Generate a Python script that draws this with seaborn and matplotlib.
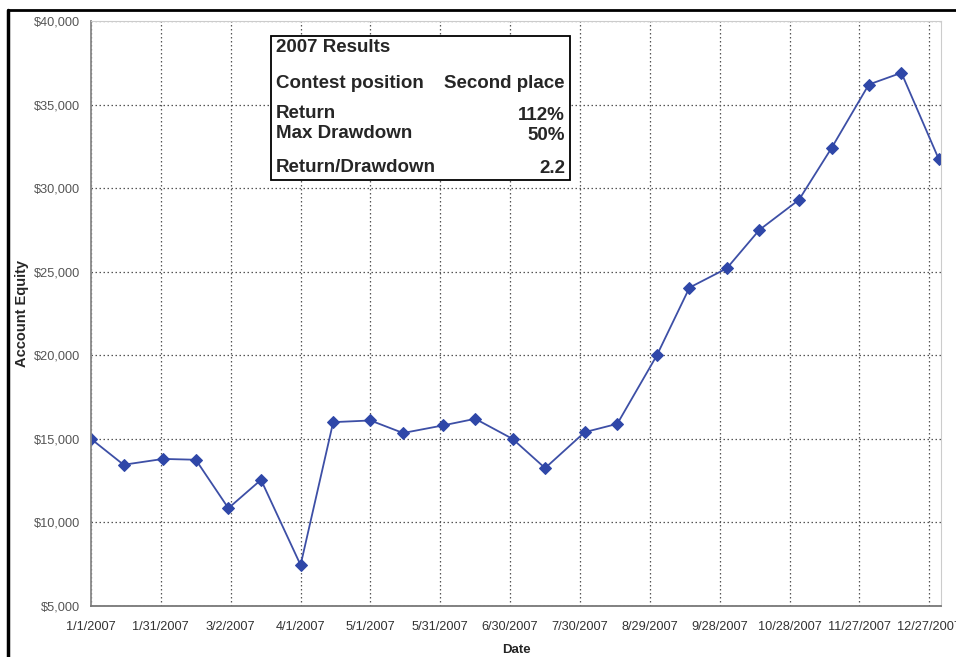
import pandas as pd
import matplotlib.pyplot as plt
import matplotlib.lines as mlines
import matplotlib.patches as mpatches
import seaborn as sns

# Account equity, sampled on the 1st and 15th of each month
dates = ["2007-01-01", "2007-01-15", "2007-02-01", "2007-02-15", "2007-03-01",
         "2007-03-15", "2007-04-01", "2007-04-15", "2007-05-01", "2007-05-15",
         "2007-06-01", "2007-06-15", "2007-07-01", "2007-07-15", "2007-08-01",
         "2007-08-15", "2007-09-01", "2007-09-15", "2007-10-01", "2007-10-15",
         "2007-11-01", "2007-11-15", "2007-12-01", "2007-12-15", "2007-12-31"]
equity = [15000, 13450, 13800, 13750, 10850,
          12550, 7450, 16000, 16100, 15350,
          15800, 16200, 15000, 13250, 15400,
          15900, 20000, 24050, 25200, 27500,
          29300, 32400, 36200, 36900, 31750]

x_tick_dates = ["2007-01-01", "2007-01-31", "2007-03-02", "2007-04-01", "2007-05-01",
                "2007-05-31", "2007-06-30", "2007-07-30", "2007-08-29", "2007-09-28",
                "2007-10-28", "2007-11-27", "2007-12-27"]
x_tick_labels = ["1/1/2007", "1/31/2007", "3/2/2007", "4/1/2007", "5/1/2007",
                 "5/31/2007", "6/30/2007", "7/30/2007", "8/29/2007", "9/28/2007",
                 "10/28/2007", "11/27/2007", "12/27/2007"]
y_ticks = [5000, 10000, 15000, 20000, 25000, 30000, 35000, 40000]
y_tick_labels = ["$5,000", "$10,000", "$15,000", "$20,000", "$25,000",
                 "$30,000", "$35,000", "$40,000"]

box_rows = [("Contest position", "Second place"),
            ("Return", "112%"),
            ("Max Drawdown", "50%"),
            ("Return/Drawdown", "2.2")]

df = pd.DataFrame({"date": pd.to_datetime(dates), "equity": equity})

sns.set_style("white")
plt.rcParams["font.family"] = ["Liberation Sans", "DejaVu Sans"]

fig = plt.figure(figsize=(9.56, 6.57), dpi=100)
ax = fig.add_axes([91 / 956, 1 - 606 / 657, 850 / 956, 585 / 657])

sns.lineplot(data=df, x="date", y="equity", ax=ax, color="#3d4fa6",
             linewidth=1.3, marker="D", markersize=6.5,
             markerfacecolor="#2f47a8", markeredgecolor="#2f47a8")

ax.set_xlim(pd.Timestamp("2007-01-01"), pd.Timestamp("2008-01-01"))
ax.set_ylim(5000, 40000)
ax.set_xticks(pd.to_datetime(x_tick_dates))
ax.set_xticklabels(x_tick_labels, fontsize=9.2, color="#333333")
ax.set_yticks(y_ticks)
ax.set_yticklabels(y_tick_labels, fontsize=9.2, color="#555555")
ax.tick_params(axis="both", direction="out", length=4, width=1, color="#777777")
ax.tick_params(axis="x", pad=7)
ax.tick_params(axis="y", pad=4)

ax.grid(True, linestyle=(0, (1.2, 2)), color="#555555", linewidth=0.9)

ax.spines["left"].set_color("#888888")
ax.spines["bottom"].set_color("#777777")
ax.spines["left"].set_linewidth(1.3)
ax.spines["bottom"].set_linewidth(1.3)
ax.spines["top"].set_color("#cccccc")
ax.spines["right"].set_color("#cccccc")

ax.set_xlabel("Date", fontsize=9.5, fontweight="bold", labelpad=8)
ax.set_ylabel("Account Equity", fontsize=10.5, fontweight="bold", labelpad=3)

# results box
bx0, bx1 = (271 - 91) / 850, (570 - 91) / 850
by0, by1 = (606 - 180) / 585, (606 - 36) / 585
ax.add_patch(mpatches.Rectangle((bx0, by0), bx1 - bx0, by1 - by0, transform=ax.transAxes,
                                facecolor="white", edgecolor="black", linewidth=1.3, zorder=5))
tx_l = (276 - 91) / 850
tx_r = (565 - 91) / 850
ax.text(tx_l, (606 - 48) / 585, "2007 Results", transform=ax.transAxes, fontsize=13.5,
        fontweight="bold", va="center", ha="left", zorder=6)
row_y = [83, 114, 134, 168]
for (lab, val), yy in zip(box_rows, row_y):
    ax.text(tx_l, (606 - yy) / 585, lab, transform=ax.transAxes, fontsize=13.5,
            fontweight="bold", va="center", ha="left", zorder=6)
    ax.text(tx_r, (606 - yy - 1) / 585, val, transform=ax.transAxes, fontsize=13.5,
            fontweight="bold", va="center", ha="right", zorder=6)

# outer frame of the scanned figure
fig.add_artist(mlines.Line2D([8 / 956, 1], [1 - 10 / 657, 1 - 10 / 657],
                             color="black", linewidth=2, transform=fig.transFigure))
fig.add_artist(mlines.Line2D([8 / 956, 8 / 956], [0, 1 - 10 / 657],
                             color="black", linewidth=2.5, transform=fig.transFigure))

plt.savefig("out.png", dpi=100)
plt.close()
